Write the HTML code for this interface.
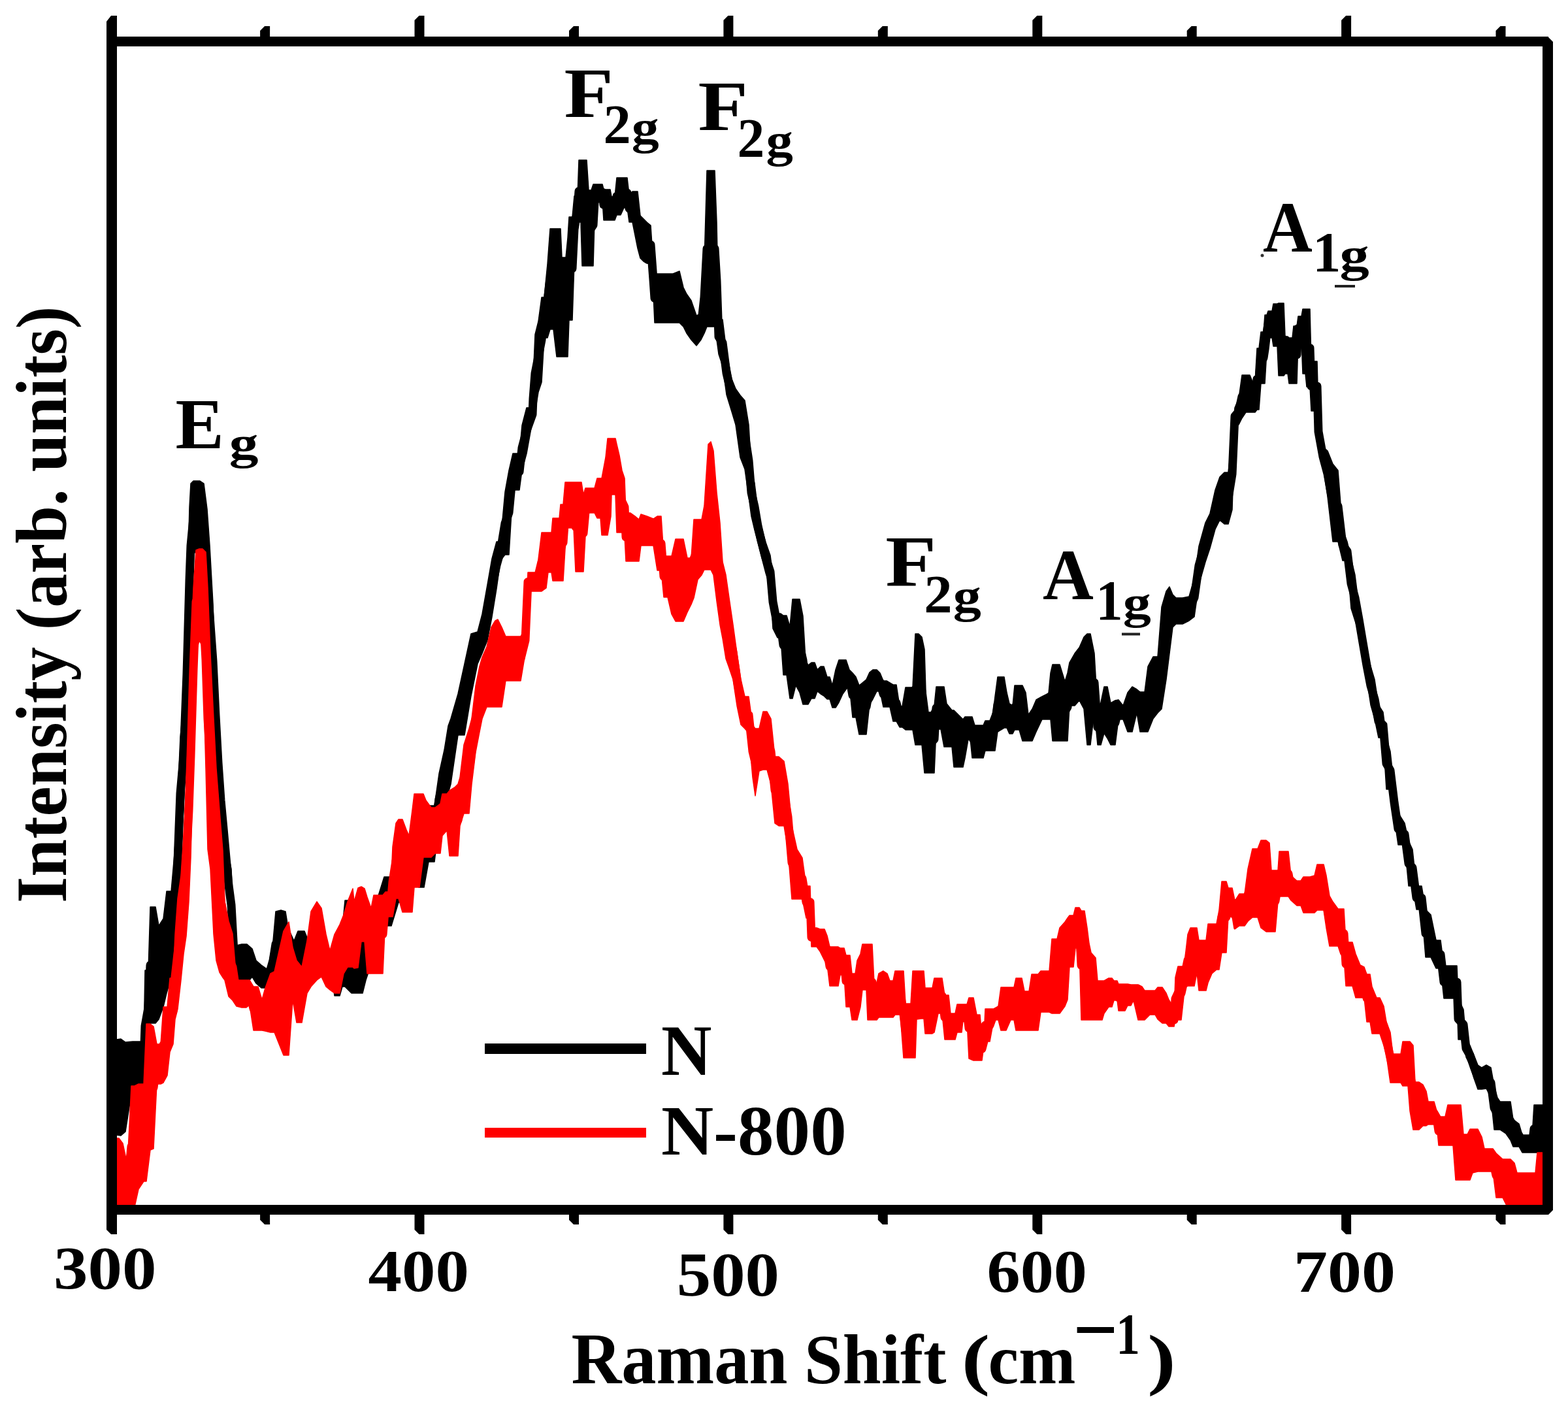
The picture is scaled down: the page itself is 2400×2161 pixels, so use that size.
<!DOCTYPE html>
<html><head><meta charset="utf-8"><title>Raman spectra</title>
<style>html,body{margin:0;padding:0;background:#fff;}svg{display:block;}</style>
</head><body>
<svg width="2400" height="2161" viewBox="0 0 2400 2161">
<rect width="2400" height="2161" fill="#fff"/>
<polygon points="171,1590 178,1591 185,1590 192,1595 203,1594 212,1594 220,1594 222,1485 227,1485 230,1388 238,1388 243,1417 250,1406 255,1364 262,1364 267,1307 271,1240 276,1128 281,1076 286,934 290,776 292,740 296,736 301,736 306,736 312,740 317,779 321,835 326,924 330,1040 334,1120 338,1190 342,1226 346,1290 350,1310 354,1330 358,1420 362,1447 370,1445 378,1445 386,1452 392,1470 400,1477 410,1484 418,1440 422,1395 430,1393 437,1395 441,1420 450,1440 456,1425 466,1425 472,1440 490,1440 505,1455 512,1460 520,1450 524,1420 528,1378 538,1378 545,1420 555,1440 560,1440 570,1400 588,1342 599,1342 610,1340 619,1330 630,1300 641,1282 649,1282 656,1233 665,1233 672,1184 680,1148 686,1111 690,1100 701,1062 711,1016 721,970 731,967 738,940 746,895 753,855 760,829 766,829 773,753 779,720 785,694 795,694 799,651 806,624 815,624 816,580 819,512 824,492 829,455 833,455 838,404 842,350 847,350 852,350 858,350 860,394 866,394 869,364 871,332 876,332 879,300 884,300 886,245 889,245 891,245 898,245 901,291 905,291 908,282 910,282 914,282 916,282 922,282 924,290 930,290 934,290 936,301 941,301 944,272 950,272 955,272 960,272 963,298 968,293 972,293 976,293 980,330 985,335 990,340 996,345 1000,406 1002,419 1010,419 1020,419 1030,419 1040,415 1046,440 1051,450 1058,460 1066,483 1073,480 1078,400 1082,261 1088,261 1094,261 1097,340 1100,489 1106,489 1112,538 1120,580 1126,595 1133,605 1140,613 1146,650 1150,718 1155,740 1160,780 1165,804 1172,830 1179,850 1183,880 1190,939 1195,939 1199,942 1204,942 1209,959 1213,917 1218,917 1224,917 1229,943 1233,1010 1237,1018 1242,1014 1247,1014 1251,1025 1256,1020 1261,1020 1266,1036 1270,1036 1274,1049 1279,1025 1284,1010 1290,1010 1295,1010 1300,1025 1305,1030 1310,1036 1315,1049 1320,1045 1326,1040 1331,1029 1336,1025 1342,1025 1347,1030 1352,1042 1357,1042 1362,1045 1367,1048 1372,1048 1377,1081 1381,1081 1386,1052 1392,1052 1397,1052 1401,970 1406,970 1411,975 1415,994 1418,1090 1425,1090 1430,1080 1433,1051 1440,1051 1445,1051 1449,1077 1457,1087 1460,1087 1468,1095 1474,1101 1477,1097 1484,1097 1488,1097 1492,1110 1500,1110 1505,1110 1508,1103 1515,1103 1520,1090 1523,1066 1527,1036 1537,1036 1541,1060 1545,1077 1550,1080 1553,1049 1560,1049 1565,1049 1570,1060 1574,1094 1580,1085 1586,1071 1595,1066 1605,1061 1608,1030 1611,1017 1622,1017 1626,1030 1630,1043 1634,1030 1637,1014 1645,1000 1652,991 1659,975 1664,970 1669,970 1675,1000 1680,1086 1685,1075 1690,1051 1695,1051 1700,1076 1707,1072 1712,1071 1719,1080 1726,1060 1733,1051 1740,1055 1745,1059 1752,1059 1757,1020 1765,1005 1772,1005 1778,929 1785,905 1790,898 1795,910 1800,915 1810,915 1820,913 1828,885 1835,836 1845,800 1852,786 1860,750 1867,730 1874,723 1880,723 1886,671 1890,624 1896,610 1901,574 1907,574 1913,574 1917,584 1921,584 1924,533 1927,533 1930,508 1934,508 1936,482 1939,482 1941,476 1947,476 1949,465 1955,465 1957,464 1965,464 1967,515 1971,515 1973,517 1978,517 1980,499 1985,499 1987,484 1992,484 1994,473 1998,473 2000,473 2005,473 2007,553 2016,553 2018,631 2025,684 2032,690 2040,710 2048,720 2055,810 2062,829 2068,855 2074,880 2080,928 2086,967 2092,997 2098,1020 2104,1040 2110,1079 2117,1090 2122,1129 2128,1150 2134,1205 2140,1244 2150,1260 2156,1287 2162,1300 2168,1356 2176,1356 2182,1392 2190,1400 2198,1439 2205,1439 2210,1478 2220,1478 2230,1478 2232,1528 2240,1545 2244,1591 2250,1600 2256,1615 2262,1630 2268,1634 2275,1630 2282,1634 2287,1662 2292,1680 2296,1686 2305,1686 2312,1686 2316,1713 2325,1720 2330,1737 2340,1737 2345,1740 2348,1691 2362,1691 2362,1764 2348,1764 2345,1764 2340,1764 2330,1764 2325,1755 2316,1755 2312,1745 2305,1735 2296,1729 2292,1729 2287,1729 2282,1680 2275,1666 2268,1667 2262,1667 2256,1650 2250,1630 2244,1618 2240,1591 2232,1591 2230,1528 2220,1528 2210,1528 2205,1482 2198,1482 2190,1465 2182,1465 2176,1392 2168,1392 2162,1356 2156,1356 2150,1293 2140,1293 2134,1251 2128,1208 2122,1208 2117,1129 2110,1129 2104,1100 2098,1079 2092,1040 2086,1000 2080,968 2074,950 2068,931 2062,858 2055,858 2048,829 2040,829 2032,760 2025,714 2018,690 2016,629 2007,629 2005,592 2000,592 1998,572 1994,572 1992,521 1987,521 1985,587 1980,587 1978,587 1973,587 1971,572 1967,572 1965,575 1957,575 1955,530 1949,530 1947,517 1941,517 1939,536 1936,587 1934,587 1930,587 1927,627 1924,627 1921,631 1917,631 1913,631 1907,631 1901,640 1896,650 1890,650 1886,780 1880,802 1874,802 1867,796 1860,810 1852,839 1845,860 1835,895 1828,944 1820,950 1810,955 1800,955 1795,960 1790,1000 1785,1040 1778,1085 1772,1091 1765,1100 1757,1120 1752,1120 1745,1120 1740,1091 1733,1120 1726,1120 1719,1101 1712,1101 1707,1140 1700,1140 1695,1130 1690,1122 1685,1140 1680,1140 1675,1089 1669,1140 1664,1140 1659,1085 1652,1072 1645,1080 1637,1080 1634,1134 1630,1134 1626,1134 1622,1134 1611,1134 1608,1101 1605,1101 1595,1101 1586,1120 1580,1134 1574,1134 1570,1134 1565,1134 1560,1117 1553,1117 1550,1123 1545,1123 1541,1114 1537,1114 1527,1120 1523,1149 1520,1149 1515,1149 1508,1149 1505,1160 1500,1160 1492,1160 1488,1160 1484,1120 1477,1160 1474,1174 1468,1174 1460,1174 1457,1143 1449,1143 1445,1143 1440,1116 1433,1116 1430,1183 1425,1183 1418,1183 1415,1183 1411,1140 1406,1140 1401,1140 1397,1117 1392,1117 1386,1117 1381,1113 1377,1113 1372,1104 1367,1104 1362,1082 1357,1082 1352,1082 1347,1058 1342,1058 1336,1070 1331,1078 1326,1124 1320,1124 1315,1124 1310,1098 1305,1098 1300,1049 1295,1055 1290,1062 1284,1075 1279,1083 1274,1083 1270,1070 1266,1070 1261,1065 1256,1062 1251,1058 1247,1069 1242,1069 1237,1078 1233,1078 1229,1078 1224,1060 1218,1049 1213,1069 1209,1069 1204,1033 1199,1033 1195,976 1190,976 1183,962 1179,900 1172,877 1165,850 1160,830 1155,811 1150,790 1146,760 1140,718 1133,700 1126,650 1120,630 1112,604 1106,560 1100,542 1097,520 1094,500 1088,500 1082,500 1078,510 1073,520 1066,529 1058,520 1051,510 1046,500 1040,494 1030,494 1020,494 1010,494 1002,494 1000,450 996,404 990,403 985,400 980,395 976,380 972,360 968,340 963,340 960,318 955,318 950,329 944,329 941,337 936,337 934,337 930,337 924,337 922,306 916,306 914,320 910,337 908,407 905,407 901,407 898,407 891,407 889,340 886,340 884,340 879,402 876,490 871,490 869,546 866,546 860,546 858,546 852,546 847,504 842,504 838,517 833,517 829,585 824,600 819,631 816,640 815,644 806,694 799,720 795,750 785,750 779,849 773,849 766,858 760,901 753,944 746,980 738,1000 731,1016 721,1065 711,1125 701,1125 690,1200 686,1214 680,1233 672,1262 665,1319 656,1319 649,1358 641,1358 630,1340 619,1381 610,1381 599,1417 588,1417 570,1470 560,1500 555,1520 545,1520 538,1520 528,1510 524,1510 520,1524 512,1524 505,1470 490,1470 472,1480 466,1484 456,1484 450,1480 441,1480 437,1485 430,1490 422,1495 418,1500 410,1512 400,1512 392,1505 386,1495 378,1505 370,1505 362,1500 358,1495 354,1440 350,1400 346,1335 342,1310 338,1260 334,1215 330,1150 326,1100 321,1050 317,1000 312,860 306,850 301,840 296,850 292,930 290,1000 286,1128 281,1240 276,1300 271,1450 267,1470 262,1496 255,1520 250,1541 243,1560 238,1566 230,1566 227,1600 222,1656 220,1660 212,1662 203,1662 192,1732 185,1738 178,1737 171,1740" fill="#000" stroke="#000" stroke-width="1.5" stroke-linejoin="round"/>
<polyline points="171,1665.0 178,1664.0 185,1664.0 192,1663.5 203,1628.0 212,1628.0 220,1627.0 222,1570.5 227,1542.5 230,1477.0 238,1477.0 243,1488.5 250,1473.5 255,1442.0 262,1430.0 267,1388.5 271,1345.0 276,1214.0 281,1158.0 286,1031.0 290,888.0 292,835.0 296,793.0 301,788.0 306,793.0 312,800.0 317,889.5 321,942.5 326,1012.0 330,1095.0 334,1167.5 338,1225.0 342,1268.0 346,1312.5 350,1355.0 354,1385.0 358,1457.5 362,1473.5 370,1475.0 378,1475.0 386,1473.5 392,1487.5 400,1494.5 410,1498.0 418,1470.0 422,1445.0 430,1441.5 437,1440.0 441,1450.0 450,1460.0 456,1454.5 466,1454.5 472,1460.0 490,1455.0 505,1462.5 512,1492.0 520,1487.0 524,1465.0 528,1444.0 538,1449.0 545,1470.0 555,1480.0 560,1470.0 570,1435.0 588,1379.5 599,1379.5 610,1360.5 619,1355.5 630,1320.0 641,1320.0 649,1320.0 656,1276.0 665,1276.0 672,1223.0 680,1190.5 686,1162.5 690,1150.0 701,1093.5 711,1070.5 721,1017.5 731,991.5 738,970.0 746,937.5 753,899.5 760,865.0 766,843.5 773,801.0 779,784.5 785,722.0 795,722.0 799,685.5 806,659.0 815,634.0 816,610.0 819,571.5 824,546.0 829,520.0 833,486.0 838,460.5 842,427.0 847,427.0 852,448.0 858,448.0 860,470.0 866,470.0 869,455.0 871,411.0 876,411.0 879,351.0 884,320.0 886,292.5 889,292.5 891,326.0 898,326.0 901,349.0 905,349.0 908,344.5 910,309.5 914,301.0 916,294.0 922,294.0 924,313.5 930,313.5 934,313.5 936,319.0 941,319.0 944,300.5 950,300.5 955,295.0 960,295.0 963,319.0 968,316.5 972,326.5 976,336.5 980,362.5 985,367.5 990,371.5 996,374.5 1000,428.0 1002,456.5 1010,456.5 1020,456.5 1030,456.5 1040,454.5 1046,470.0 1051,480.0 1058,490.0 1066,506.0 1073,500.0 1078,455.0 1082,380.5 1088,380.5 1094,380.5 1097,430.0 1100,515.5 1106,524.5 1112,571.0 1120,605.0 1126,622.5 1133,652.5 1140,665.5 1146,705.0 1150,754.0 1155,775.5 1160,805.0 1165,827.0 1172,853.5 1179,875.0 1183,921.0 1190,957.5 1195,957.5 1199,987.5 1204,987.5 1209,1014.0 1213,993.0 1218,983.0 1224,988.5 1229,1010.5 1233,1044.0 1237,1048.0 1242,1041.5 1247,1041.5 1251,1041.5 1256,1041.0 1261,1042.5 1266,1053.0 1270,1053.0 1274,1066.0 1279,1054.0 1284,1042.5 1290,1036.0 1295,1032.5 1300,1037.0 1305,1064.0 1310,1067.0 1315,1086.5 1320,1084.5 1326,1082.0 1331,1053.5 1336,1047.5 1342,1041.5 1347,1044.0 1352,1062.0 1357,1062.0 1362,1063.5 1367,1076.0 1372,1076.0 1377,1097.0 1381,1097.0 1386,1084.5 1392,1084.5 1397,1084.5 1401,1055.0 1406,1055.0 1411,1057.5 1415,1088.5 1418,1136.5 1425,1136.5 1430,1131.5 1433,1083.5 1440,1083.5 1445,1097.0 1449,1110.0 1457,1115.0 1460,1130.5 1468,1134.5 1474,1137.5 1477,1128.5 1484,1108.5 1488,1128.5 1492,1135.0 1500,1135.0 1505,1135.0 1508,1126.0 1515,1126.0 1520,1119.5 1523,1107.5 1527,1078.0 1537,1075.0 1541,1087.0 1545,1100.0 1550,1101.5 1553,1083.0 1560,1083.0 1565,1091.5 1570,1097.0 1574,1114.0 1580,1109.5 1586,1095.5 1595,1083.5 1605,1081.0 1608,1065.5 1611,1075.5 1622,1075.5 1626,1082.0 1630,1088.5 1634,1082.0 1637,1047.0 1645,1040.0 1652,1031.5 1659,1030.0 1664,1055.0 1669,1055.0 1675,1044.5 1680,1113.0 1685,1107.5 1690,1086.5 1695,1090.5 1700,1108.0 1707,1106.0 1712,1086.0 1719,1090.5 1726,1090.0 1733,1085.5 1740,1073.0 1745,1089.5 1752,1089.5 1757,1070.0 1765,1052.5 1772,1048.0 1778,1007.0 1785,972.5 1790,949.0 1795,935.0 1800,935.0 1810,935.0 1820,931.5 1828,914.5 1835,865.5 1845,830.0 1852,812.5 1860,780.0 1867,763.0 1874,762.5 1880,762.5 1886,725.5 1890,637.0 1896,630.0 1901,607.0 1907,602.5 1913,602.5 1917,607.5 1921,607.5 1924,580.0 1927,580.0 1930,547.5 1934,547.5 1936,534.5 1939,509.0 1941,496.5 1947,496.5 1949,497.5 1955,497.5 1957,519.5 1965,519.5 1967,543.5 1971,543.5 1973,552.0 1978,552.0 1980,543.0 1985,543.0 1987,502.5 1992,502.5 1994,522.5 1998,522.5 2000,532.5 2005,532.5 2007,591.0 2016,591.0 2018,660.5 2025,699.0 2032,725.0 2040,769.5 2048,774.5 2055,834.0 2062,843.5 2068,893.0 2074,915.0 2080,948.0 2086,983.5 2092,1018.5 2098,1049.5 2104,1070.0 2110,1104.0 2117,1109.5 2122,1168.5 2128,1179.0 2134,1228.0 2140,1268.5 2150,1276.5 2156,1321.5 2162,1328.0 2168,1374.0 2176,1374.0 2182,1428.5 2190,1432.5 2198,1460.5 2205,1460.5 2210,1503.0 2220,1503.0 2230,1503.0 2232,1559.5 2240,1568.0 2244,1604.5 2250,1615.0 2256,1632.5 2262,1648.5 2268,1650.5 2275,1648.0 2282,1657.0 2287,1695.5 2292,1704.5 2296,1707.5 2305,1710.5 2312,1715.5 2316,1734.0 2325,1737.5 2330,1750.5 2340,1750.5 2345,1752.0 2348,1727.5 2362,1727.5" fill="none" stroke="#000" stroke-width="13" stroke-linejoin="round" stroke-linecap="round"/>
<polygon points="170,1742 175,1742 182,1742 188,1750 195,1783 201,1662 206,1662 212,1659 220,1659 224,1567 230,1567 235,1571 240,1598 246,1598 250,1541 256,1541 260,1497 265,1497 268,1430 272,1375 277,1340 281,1280 285,1200 289,1100 292,1000 296,900 300,842 305,840 310,840 315,845 318,900 322,1000 327,1100 331,1176 336,1240 341,1302 344,1380 350,1410 356,1429 362,1500 370,1500 377,1500 382,1500 388,1510 395,1510 401,1530 406,1512 414,1490 420,1487 434,1425 442,1411 448,1450 454,1470 462,1480 470,1440 476,1395 485,1380 492,1390 499,1430 505,1455 512,1430 520,1415 526,1400 532,1380 540,1360 542,1380 548,1359 553,1357 558,1360 562,1373 568,1390 572,1370 580,1370 586,1370 590,1365 598,1365 601,1296 606,1260 610,1254 616,1254 622,1270 626,1279 631,1240 634,1215 642,1215 648,1215 652,1225 660,1236 666,1236 674,1230 677,1215 684,1215 688,1210 696,1205 701,1200 704,1190 710,1140 718,1115 722,1100 728,1050 734,1020 738,1006 745,990 752,960 758,950 762,948 768,960 774,974 780,974 790,974 797,974 804,960 808,876 815,876 822,876 824,856 829,815 836,815 839,815 844,815 846,793 852,793 856,793 858,772 862,772 865,738 869,738 878,738 881,738 890,738 893,757 896,747 900,747 910,747 914,732 919,732 921,732 927,700 930,671 935,671 936,671 942,671 944,680 948,697 952,720 956,732 958,785 965,785 972,790 978,795 981,787 990,790 1000,794 1006,790 1012,790 1016,851 1022,851 1028,851 1034,825 1040,825 1046,825 1052,854 1058,854 1062,795 1068,795 1074,795 1078,774 1084,680 1088,676 1092,690 1097,754 1102,800 1106,860 1111,880 1116,915 1122,956 1128,1000 1134,1040 1140,1066 1146,1066 1152,1110 1156,1115 1162,1115 1168,1089 1174,1089 1180,1100 1186,1158 1192,1158 1200,1165 1206,1200 1212,1264 1220,1300 1228,1313 1234,1356 1240,1356 1242,1420 1250,1420 1255,1422 1262,1422 1266,1432 1270,1449 1278,1449 1283,1449 1286,1451 1292,1451 1295,1462 1301,1462 1304,1490 1309,1490 1312,1470 1317,1460 1320,1445 1326,1445 1328,1445 1335,1445 1338,1504 1342,1504 1345,1490 1352,1486 1358,1490 1362,1501 1367,1501 1370,1486 1378,1486 1383,1486 1386,1536 1394,1536 1397,1486 1401,1486 1403,1486 1410,1486 1414,1486 1416,1512 1427,1512 1430,1497 1436,1497 1442,1497 1446,1523 1452,1523 1455,1551 1462,1551 1465,1537 1472,1537 1474,1537 1480,1537 1483,1527 1490,1527 1495,1553 1500,1553 1503,1587 1506,1587 1508,1544 1515,1544 1521,1544 1528,1540 1532,1511 1540,1511 1547,1511 1552,1511 1555,1497 1564,1497 1568,1517 1575,1517 1579,1491 1589,1491 1593,1486 1606,1486 1610,1437 1618,1437 1622,1420 1630,1411 1634,1405 1637,1401 1643,1401 1646,1389 1652,1389 1655,1394 1660,1394 1664,1420 1667,1444 1670,1458 1677,1466 1680,1501 1687,1501 1690,1501 1697,1497 1702,1497 1705,1501 1710,1501 1712,1506 1722,1506 1726,1506 1731,1507 1735,1507 1742,1507 1748,1510 1752,1516 1760,1516 1768,1516 1772,1511 1779,1511 1785,1520 1789,1530 1795,1540 1797,1551 1799,1496 1803,1479 1808,1479 1812,1479 1815,1456 1818,1430 1822,1420 1828,1420 1832,1420 1835,1439 1846,1439 1849,1414 1855,1414 1862,1414 1866,1393 1870,1349 1877,1349 1880,1359 1886,1359 1889,1373 1890,1379 1897,1368 1905,1368 1910,1330 1917,1299 1925,1299 1930,1286 1938,1286 1943,1290 1946,1332 1952,1332 1956,1332 1958,1303 1965,1303 1972,1303 1976,1340 1985,1348 1991,1348 1995,1342 2005,1342 2012,1340 2016,1323 2026,1323 2030,1340 2035,1371 2040,1380 2048,1391 2052,1391 2057,1391 2060,1442 2070,1442 2075,1460 2082,1477 2088,1480 2092,1491 2097,1491 2100,1510 2107,1527 2112,1527 2118,1540 2122,1564 2128,1580 2132,1613 2144,1613 2147,1594 2155,1594 2158,1594 2163,1600 2166,1656 2172,1656 2178,1660 2183,1670 2186,1686 2195,1686 2199,1700 2202,1709 2212,1709 2216,1691 2224,1691 2228,1691 2236,1691 2240,1736 2246,1736 2250,1728 2254,1728 2262,1728 2268,1740 2272,1758 2285,1758 2290,1765 2300,1774 2306,1774 2312,1774 2318,1780 2322,1795 2335,1795 2350,1795 2353,1764 2362,1764 2362,1850 2353,1850 2350,1850 2335,1850 2322,1850 2318,1850 2312,1850 2306,1845 2300,1833 2290,1833 2285,1793 2272,1793 2268,1793 2262,1793 2254,1795 2250,1806 2246,1806 2240,1806 2236,1806 2228,1806 2224,1753 2216,1753 2212,1753 2202,1753 2199,1721 2195,1721 2186,1721 2183,1723 2178,1723 2172,1729 2166,1729 2163,1729 2158,1700 2155,1662 2147,1662 2144,1657 2132,1657 2128,1657 2122,1615 2118,1600 2112,1582 2107,1582 2100,1582 2097,1564 2092,1564 2088,1527 2082,1527 2075,1527 2070,1509 2060,1509 2057,1466 2052,1460 2048,1448 2040,1448 2035,1448 2030,1420 2026,1393 2016,1393 2012,1397 2005,1397 1995,1397 1991,1386 1985,1386 1976,1378 1972,1372 1965,1372 1958,1372 1956,1380 1952,1426 1946,1426 1943,1426 1938,1426 1930,1420 1925,1404 1917,1404 1910,1410 1905,1417 1897,1417 1890,1422 1889,1421 1886,1403 1880,1403 1877,1458 1870,1458 1866,1484 1862,1484 1855,1490 1849,1504 1846,1516 1835,1516 1832,1489 1828,1509 1822,1509 1818,1509 1815,1511 1812,1525 1808,1561 1803,1561 1799,1561 1797,1571 1795,1571 1789,1571 1785,1566 1779,1566 1772,1560 1768,1553 1760,1553 1752,1561 1748,1561 1742,1561 1735,1531 1731,1539 1726,1539 1722,1547 1712,1547 1710,1531 1705,1531 1702,1541 1697,1541 1690,1551 1687,1561 1680,1561 1677,1561 1670,1561 1667,1561 1664,1561 1660,1561 1655,1561 1652,1451 1646,1451 1643,1480 1637,1480 1634,1530 1630,1540 1622,1551 1618,1551 1610,1551 1606,1549 1593,1549 1589,1577 1579,1577 1575,1577 1568,1577 1564,1577 1555,1577 1552,1561 1547,1561 1540,1577 1532,1577 1528,1561 1521,1561 1515,1594 1508,1594 1506,1600 1503,1623 1500,1623 1495,1623 1490,1623 1483,1620 1480,1561 1474,1561 1472,1580 1465,1580 1462,1591 1455,1591 1452,1591 1446,1591 1442,1551 1436,1551 1430,1580 1427,1582 1416,1582 1414,1559 1410,1559 1403,1560 1401,1619 1397,1619 1394,1619 1386,1619 1383,1619 1378,1553 1370,1553 1367,1557 1362,1557 1358,1557 1352,1557 1345,1557 1342,1561 1338,1561 1335,1561 1328,1561 1326,1515 1320,1515 1317,1541 1312,1561 1309,1561 1304,1561 1301,1541 1295,1541 1292,1492 1286,1492 1283,1509 1278,1509 1270,1509 1266,1476 1262,1470 1255,1456 1250,1449 1242,1449 1240,1405 1234,1405 1228,1376 1220,1376 1212,1376 1206,1300 1200,1264 1192,1264 1186,1260 1180,1200 1174,1178 1168,1178 1162,1180 1156,1218 1152,1190 1146,1122 1140,1115 1134,1109 1128,1080 1122,1040 1116,1022 1111,1008 1106,977 1102,956 1097,920 1092,880 1088,872 1084,872 1078,872 1074,880 1068,887 1062,915 1058,925 1052,937 1046,951 1040,951 1034,951 1028,940 1022,914 1016,914 1012,873 1006,873 1000,835 990,835 981,835 978,859 972,859 965,859 958,859 956,820 952,815 948,815 944,815 942,757 936,757 935,790 930,819 927,819 921,819 919,793 914,793 910,785 900,785 896,820 893,875 890,875 881,875 878,808 869,808 865,840 862,889 858,889 856,889 852,889 846,889 844,876 839,876 836,900 829,905 824,905 822,905 815,905 808,905 804,1000 797,1042 790,1042 780,1042 774,1042 768,1082 762,1082 758,1082 752,1082 745,1082 738,1100 734,1120 728,1151 722,1200 718,1245 710,1245 704,1264 701,1310 696,1310 688,1310 684,1271 677,1279 674,1306 666,1306 660,1312 652,1312 648,1312 642,1358 634,1358 631,1396 626,1396 622,1396 616,1396 610,1375 606,1375 601,1403 598,1403 590,1403 586,1490 580,1490 572,1490 568,1490 562,1490 558,1441 553,1441 548,1481 542,1482 540,1480 532,1480 526,1490 520,1520 512,1520 505,1515 499,1510 492,1495 485,1500 476,1510 470,1520 462,1565 454,1565 448,1530 442,1615 434,1615 420,1580 414,1580 406,1578 401,1577 395,1577 388,1577 382,1538 377,1542 370,1542 362,1540 356,1531 350,1525 344,1500 341,1496 336,1488 331,1470 327,1430 322,1330 318,1300 315,1176 310,990 305,980 300,1000 296,1150 292,1312 289,1380 285,1433 281,1460 277,1500 272,1544 268,1560 265,1598 260,1610 256,1646 250,1657 246,1659 240,1659 235,1758 230,1760 224,1808 220,1808 212,1820 206,1847 201,1847 195,1850 188,1850 182,1850 175,1850 170,1783" fill="#f00" stroke="#f00" stroke-width="1.5" stroke-linejoin="round"/>
<polyline points="170,1762.5 175,1796.0 182,1796.0 188,1800.0 195,1816.5 201,1754.5 206,1754.5 212,1739.5 220,1733.5 224,1687.5 230,1663.5 235,1664.5 240,1628.5 246,1628.5 250,1599.0 256,1593.5 260,1553.5 265,1547.5 268,1495.0 272,1459.5 277,1420.0 281,1370.0 285,1316.5 289,1240.0 292,1156.0 296,1025.0 300,921.0 305,910.0 310,915.0 315,1010.5 318,1100.0 322,1165.0 327,1265.0 331,1323.0 336,1364.0 341,1399.0 344,1440.0 350,1467.5 356,1480.0 362,1520.0 370,1521.0 377,1521.0 382,1519.0 388,1543.5 395,1543.5 401,1553.5 406,1545.0 414,1535.0 420,1533.5 434,1520.0 442,1513.0 448,1490.0 454,1517.5 462,1522.5 470,1480.0 476,1452.5 485,1440.0 492,1442.5 499,1470.0 505,1485.0 512,1475.0 520,1467.5 526,1445.0 532,1430.0 540,1420.0 542,1431.0 548,1420.0 553,1399.0 558,1400.5 562,1431.5 568,1440.0 572,1430.0 580,1430.0 586,1430.0 590,1384.0 598,1384.0 601,1349.5 606,1317.5 610,1314.5 616,1325.0 622,1333.0 626,1337.5 631,1318.0 634,1286.5 642,1286.5 648,1263.5 652,1268.5 660,1274.0 666,1271.0 674,1268.0 677,1247.0 684,1243.0 688,1260.0 696,1257.5 701,1255.0 704,1227.0 710,1192.5 718,1180.0 722,1150.0 728,1100.5 734,1070.0 738,1053.0 745,1036.0 752,1021.0 758,1016.0 762,1015.0 768,1021.0 774,1008.0 780,1008.0 790,1008.0 797,1008.0 804,980.0 808,890.5 815,890.5 822,890.5 824,880.5 829,860.0 836,857.5 839,845.5 844,845.5 846,841.0 852,841.0 856,841.0 858,830.5 862,830.5 865,789.0 869,773.0 878,773.0 881,806.5 890,806.5 893,816.0 896,783.5 900,766.0 910,766.0 914,762.5 919,762.5 921,775.5 927,759.5 930,745.0 935,730.5 936,714.0 942,714.0 944,747.5 948,756.0 952,767.5 956,776.0 958,822.0 965,822.0 972,824.5 978,827.0 981,811.0 990,812.5 1000,814.5 1006,831.5 1012,831.5 1016,882.5 1022,882.5 1028,895.5 1034,888.0 1040,888.0 1046,888.0 1052,895.5 1058,889.5 1062,855.0 1068,841.0 1074,837.5 1078,823.0 1084,776.0 1088,774.0 1092,785.0 1097,837.0 1102,878.0 1106,918.5 1111,944.0 1116,968.5 1122,998.0 1128,1040.0 1134,1074.5 1140,1090.5 1146,1094.0 1152,1150.0 1156,1166.5 1162,1147.5 1168,1133.5 1174,1133.5 1180,1150.0 1186,1209.0 1192,1211.0 1200,1214.5 1206,1250.0 1212,1320.0 1220,1338.0 1228,1344.5 1234,1380.5 1240,1380.5 1242,1434.5 1250,1434.5 1255,1439.0 1262,1446.0 1266,1454.0 1270,1479.0 1278,1479.0 1283,1479.0 1286,1471.5 1292,1471.5 1295,1501.5 1301,1501.5 1304,1525.5 1309,1525.5 1312,1515.5 1317,1500.5 1320,1480.0 1326,1480.0 1328,1503.0 1335,1503.0 1338,1532.5 1342,1532.5 1345,1523.5 1352,1521.5 1358,1523.5 1362,1529.0 1367,1529.0 1370,1519.5 1378,1519.5 1383,1552.5 1386,1577.5 1394,1577.5 1397,1552.5 1401,1552.5 1403,1523.0 1410,1522.5 1414,1522.5 1416,1547.0 1427,1547.0 1430,1538.5 1436,1524.0 1442,1524.0 1446,1557.0 1452,1557.0 1455,1571.0 1462,1571.0 1465,1558.5 1472,1558.5 1474,1549.0 1480,1549.0 1483,1573.5 1490,1575.0 1495,1588.0 1500,1588.0 1503,1605.0 1506,1593.5 1508,1569.0 1515,1569.0 1521,1552.5 1528,1550.5 1532,1544.0 1540,1544.0 1547,1536.0 1552,1536.0 1555,1537.0 1564,1537.0 1568,1547.0 1575,1547.0 1579,1534.0 1589,1534.0 1593,1517.5 1606,1517.5 1610,1494.0 1618,1494.0 1622,1485.5 1630,1475.5 1634,1467.5 1637,1440.5 1643,1440.5 1646,1420.0 1652,1420.0 1655,1477.5 1660,1477.5 1664,1490.5 1667,1502.5 1670,1509.5 1677,1513.5 1680,1531.0 1687,1531.0 1690,1526.0 1697,1519.0 1702,1519.0 1705,1516.0 1710,1516.0 1712,1526.5 1722,1526.5 1726,1522.5 1731,1523.0 1735,1519.0 1742,1534.0 1748,1535.5 1752,1538.5 1760,1534.5 1768,1534.5 1772,1535.5 1779,1538.5 1785,1543.0 1789,1550.5 1795,1555.5 1797,1561.0 1799,1528.5 1803,1520.0 1808,1520.0 1812,1502.0 1815,1483.5 1818,1469.5 1822,1464.5 1828,1464.5 1832,1454.5 1835,1477.5 1846,1477.5 1849,1459.0 1855,1452.0 1862,1449.0 1866,1438.5 1870,1403.5 1877,1403.5 1880,1381.0 1886,1381.0 1889,1397.0 1890,1400.5 1897,1392.5 1905,1392.5 1910,1370.0 1917,1351.5 1925,1351.5 1930,1353.0 1938,1356.0 1943,1358.0 1946,1379.0 1952,1379.0 1956,1356.0 1958,1337.5 1965,1337.5 1972,1337.5 1976,1359.0 1985,1367.0 1991,1367.0 1995,1369.5 2005,1369.5 2012,1368.5 2016,1358.0 2026,1358.0 2030,1380.0 2035,1409.5 2040,1414.0 2048,1419.5 2052,1425.5 2057,1428.5 2060,1475.5 2070,1475.5 2075,1493.5 2082,1502.0 2088,1503.5 2092,1527.5 2097,1527.5 2100,1546.0 2107,1554.5 2112,1554.5 2118,1570.0 2122,1589.5 2128,1618.5 2132,1635.0 2144,1635.0 2147,1628.0 2155,1628.0 2158,1647.0 2163,1664.5 2166,1692.5 2172,1692.5 2178,1691.5 2183,1696.5 2186,1703.5 2195,1703.5 2199,1710.5 2202,1731.0 2212,1731.0 2216,1722.0 2224,1722.0 2228,1748.5 2236,1748.5 2240,1771.0 2246,1771.0 2250,1767.0 2254,1761.5 2262,1760.5 2268,1766.5 2272,1775.5 2285,1775.5 2290,1799.0 2300,1803.5 2306,1809.5 2312,1812.0 2318,1815.0 2322,1822.5 2335,1822.5 2350,1822.5 2353,1807.0 2362,1807.0" fill="none" stroke="#f00" stroke-width="13" stroke-linejoin="round" stroke-linecap="round"/>
<g fill="#000">
<polygon points="163,33 170,24 179,24 179,1889 170,1889 163,1882"/>
<polygon points="2361,56 2369,56 2377,64 2377,1852 2370,1859 2361,1859"/>
<rect x="170" y="56" width="2200" height="15"/>
<rect x="170" y="1844" width="2200" height="15"/>
<polygon points="634.5,31 641.5,24 649.5,24 649.5,58 634.5,58"/>
<polygon points="634.5,1857 649.5,1857 649.5,1889 641.5,1889 634.5,1882"/>
<polygon points="1107.4,31 1114.4,24 1122.4,24 1122.4,58 1107.4,58"/>
<polygon points="1107.4,1857 1122.4,1857 1122.4,1889 1114.4,1889 1107.4,1882"/>
<polygon points="1580.3,31 1587.3,24 1595.3,24 1595.3,58 1580.3,58"/>
<polygon points="1580.3,1857 1595.3,1857 1595.3,1889 1587.3,1889 1580.3,1882"/>
<polygon points="2053.1,31 2060.1,24 2068.1,24 2068.1,58 2053.1,58"/>
<polygon points="2053.1,1857 2068.1,1857 2068.1,1889 2060.1,1889 2053.1,1882"/>
<polygon points="398.1,47 405.1,40 413.1,40 413.1,58 398.1,58"/>
<polygon points="398.1,1857 413.1,1857 413.1,1874 405.1,1874 398.1,1867"/>
<polygon points="871.0,47 878.0,40 886.0,40 886.0,58 871.0,58"/>
<polygon points="871.0,1857 886.0,1857 886.0,1874 878.0,1874 871.0,1867"/>
<polygon points="1343.8,47 1350.8,40 1358.8,40 1358.8,58 1343.8,58"/>
<polygon points="1343.8,1857 1358.8,1857 1358.8,1874 1350.8,1874 1343.8,1867"/>
<polygon points="1816.7,47 1823.7,40 1831.7,40 1831.7,58 1816.7,58"/>
<polygon points="1816.7,1857 1831.7,1857 1831.7,1874 1823.7,1874 1816.7,1867"/>
<polygon points="2289.5,47 2296.5,40 2304.5,40 2304.5,58 2289.5,58"/>
<polygon points="2289.5,1857 2304.5,1857 2304.5,1874 2296.5,1874 2289.5,1867"/>
</g>
<rect x="742" y="1597" width="247" height="16" fill="#000"/>
<rect x="742" y="1726" width="247" height="15" fill="#f00"/>
<g font-family="Liberation Serif, Times New Roman, serif" font-weight="bold"><text transform="translate(82.05,1972.29) scale(1.1243,1)" font-size="93.36" fill="#000">300</text><text transform="translate(563.59,1976.10) scale(1.1198,1)" font-size="91.88" fill="#000">400</text><text transform="translate(1035.80,1983.07) scale(1.1049,1)" font-size="94.84" fill="#000">500</text><text transform="translate(1510.50,1977.08) scale(1.0884,1)" font-size="93.95" fill="#000">600</text><text transform="translate(1980.06,1977.10) scale(1.1312,1)" font-size="91.88" fill="#000">700</text><text transform="translate(874.48,2116.50) scale(0.9417,1)" font-size="113.01" fill="#000">Raman</text><text transform="translate(1231.07,2116.50) scale(0.9731,1)" font-size="108.65" fill="#000">Shift</text><text transform="translate(1471.77,2114.55) scale(1.2595,1)" font-size="103.56" fill="#000">(</text><text transform="translate(1512.41,2116.50) scale(0.9798,1)" font-size="107.18" fill="#000">cm</text><text transform="translate(1708.13,2071.00) scale(0.8347,1)" font-size="87.86" fill="#000">1</text><text transform="translate(1756.30,2114.55) scale(1.2595,1)" font-size="103.56" fill="#000">)</text><rect x="1648.6" y="2031" width="56.4" height="9" fill="#000"/><text transform="translate(268.40,686.40) scale(1.0035,1)" font-size="111.03" fill="#000">E</text><text transform="translate(350.64,701.54) scale(1.2805,1)" font-size="70.04" fill="#000">g</text><text transform="translate(863.59,179.00) scale(1.1370,1)" font-size="108.43" fill="#000">F</text><text transform="translate(923.46,219.00) scale(0.9971,1)" font-size="84.58" fill="#000">2</text><text transform="translate(966.78,219.78) scale(1.1730,1)" font-size="71.67" fill="#000">g</text><text transform="translate(1068.56,199.00) scale(1.1490,1)" font-size="108.89" fill="#000">F</text><text transform="translate(1128.49,239.60) scale(0.9956,1)" font-size="83.97" fill="#000">2</text><text transform="translate(1172.42,240.21) scale(1.1572,1)" font-size="71.54" fill="#000">g</text><text transform="translate(1932.98,384.50) scale(0.9491,1)" font-size="110.58" fill="#000">A</text><text transform="translate(2009.04,414.80) scale(1.0067,1)" font-size="86.34" fill="#000">1</text><text transform="translate(2050.61,414.92) scale(1.2585,1)" font-size="71.95" fill="#000">g</text><text transform="translate(1355.22,896.50) scale(1.1611,1)" font-size="109.81" fill="#000">F</text><text transform="translate(1414.36,936.80) scale(1.0480,1)" font-size="82.77" fill="#000">2</text><text transform="translate(1458.73,937.30) scale(1.2123,1)" font-size="71.13" fill="#000">g</text><text transform="translate(1595.95,917.00) scale(0.9748,1)" font-size="110.58" fill="#000">A</text><text transform="translate(1677.37,947.60) scale(0.9662,1)" font-size="85.74" fill="#000">1</text><text transform="translate(1718.73,946.40) scale(1.2360,1)" font-size="69.77" fill="#000">g</text><text transform="translate(1011.96,1644.60) scale(0.9673,1)" font-size="110.88" fill="#000">N</text><text transform="translate(1011.88,1766.94) scale(1.0269,1)" font-size="108.18" fill="#000">N-800</text><rect x="2043" y="436" width="31" height="4" fill="#222"/><rect x="1717" y="968.5" width="28" height="4" fill="#222"/><circle cx="1932" cy="391" r="2.5" fill="#333"/><text transform="translate(101.4,1382.10) rotate(-90) scale(0.9370,1)" font-size="110.72" fill="#000">Intensity (arb. units)</text></g>
</svg>
</body></html>
